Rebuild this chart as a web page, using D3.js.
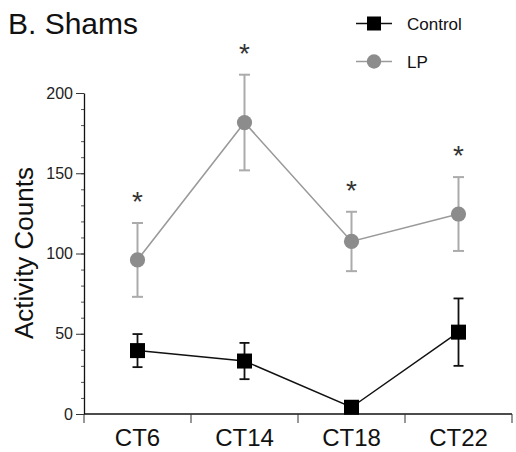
<!DOCTYPE html>
<html>
<head>
<meta charset="utf-8">
<script src="https://cdn.jsdelivr.net/npm/d3@7"></script>
<style>
  html, body { margin: 0; padding: 0; background: #fff; }
  svg { display: block; font-family: "Liberation Sans", Arial, Helvetica, sans-serif; }
</style>
</head>
<body>
<svg id="chart" width="516" height="452"></svg>
<script>
// Circadian time points
const categories = ["CT6", "CT14", "CT18", "CT22"];

// Mean activity counts and SEM per group
const controlMean = [39.5, 33, 4.2, 51];
const controlErr  = [10.3, 11.3, 2, 21];
const lpMean = [96, 181.6, 107.5, 124.6];
const lpErr  = [23, 29.8, 18.5, 23];

// Significance markers (LP vs Control)
const significant = [true, true, true, true];

// Axis ticks
const yMajorTicks = [0, 50, 100, 150, 200];
const yMinorTicks = d3.range(0, 201, 10);

const svg = d3.select("#chart");
const plotLeft = 84, plotRight = 512, plotTop = 93, plotBottom = 414;

const x = d3.scaleBand().domain(categories).range([plotLeft, plotRight]);
const y = d3.scaleLinear().domain([0, 200]).range([plotBottom, plotTop]);
const cx = d => x(d) + x.bandwidth() / 2;

const LP_FILL = "#8c8c8c", LP_LINE = "#9a9a9a", LP_ERR = "#ababab";

// Title
svg.append("text").attr("x", 8).attr("y", 34)
  .attr("font-size", 30).attr("fill", "#111").text("B. Shams");

// Y axis: minor ticks, then major ticks with labels
svg.append("g").attr("transform", `translate(${plotLeft},0)`)
  .call(d3.axisLeft(y).tickValues(yMinorTicks).tickSize(3).tickFormat(""))
  .call(g => g.select(".domain").remove())
  .call(g => g.selectAll("line").attr("stroke", "#555").attr("stroke-width", 1));

const yAx = svg.append("g").attr("transform", `translate(${plotLeft},0)`)
  .call(d3.axisLeft(y).tickValues(yMajorTicks).tickSize(8).tickSizeOuter(0).tickPadding(3))
  .call(g => g.select(".domain").attr("stroke", "#111").attr("stroke-width", 1.3))
  .call(g => g.selectAll("line").attr("stroke", "#333").attr("stroke-width", 1));
yAx.selectAll("text").attr("font-size", 16).attr("fill", "#222")
  .attr("font-family", "Liberation Sans, Arial, sans-serif");

// Y axis title
svg.append("text")
  .attr("transform", `translate(33,253) rotate(-90)`)
  .attr("text-anchor", "middle").attr("font-size", 26).attr("fill", "#111")
  .text("Activity Counts");

// X axis with ticks at band boundaries
const xg = svg.append("g").attr("transform", `translate(0,${plotBottom})`);
xg.append("line").attr("x1", plotLeft).attr("x2", plotRight)
  .attr("stroke", "#111").attr("stroke-width", 1.3);
const bounds = categories.map(c => x(c)).concat([plotRight]);
xg.selectAll("line.tick").data(bounds).join("line").attr("class", "tick")
  .attr("x1", d => d).attr("x2", d => d).attr("y1", 0).attr("y2", 9)
  .attr("stroke", "#333").attr("stroke-width", 1);
xg.selectAll("text").data(categories).join("text")
  .attr("x", d => cx(d)).attr("y", 32)
  .attr("text-anchor", "middle").attr("font-size", 24).attr("fill", "#111")
  .text(d => d);

// Series records
const lpData = categories.map((c, i) => ({ c, m: lpMean[i], e: lpErr[i], s: significant[i] }));
const ctlData = categories.map((c, i) => ({ c, m: controlMean[i], e: controlErr[i] }));

const line = d3.line().x(d => cx(d.c)).y(d => y(d.m));

function errorBars(data, color, width, cap) {
  const g = svg.append("g").attr("stroke", color).attr("stroke-width", width).attr("fill", "none");
  data.forEach(d => {
    const xx = cx(d.c);
    g.append("line").attr("x1", xx).attr("x2", xx).attr("y1", y(d.m - d.e)).attr("y2", y(d.m + d.e));
    g.append("line").attr("x1", xx - cap / 2).attr("x2", xx + cap / 2).attr("y1", y(d.m + d.e)).attr("y2", y(d.m + d.e));
    g.append("line").attr("x1", xx - cap / 2).attr("x2", xx + cap / 2).attr("y1", y(d.m - d.e)).attr("y2", y(d.m - d.e));
  });
}

// LP series
errorBars(lpData, LP_ERR, 2, 11);
svg.append("path").datum(lpData).attr("d", line)
  .attr("fill", "none").attr("stroke", LP_LINE).attr("stroke-width", 1.6);
svg.append("g").selectAll("circle").data(lpData).join("circle")
  .attr("cx", d => cx(d.c)).attr("cy", d => y(d.m)).attr("r", 7.6)
  .attr("fill", LP_FILL);

// Significance asterisks above LP error bars
svg.append("g").selectAll("text").data(lpData.filter(d => d.s)).join("text")
  .attr("x", d => cx(d.c)).attr("y", d => y(d.m + d.e) - 28 + 0.575 * 28)
  .attr("text-anchor", "middle").attr("font-size", 28).attr("fill", "#333")
  .text("*");

// Control series
errorBars(ctlData, "#111", 1.8, 10);
svg.append("path").datum(ctlData).attr("d", line)
  .attr("fill", "none").attr("stroke", "#111").attr("stroke-width", 1.5);
const sq = 15;
svg.append("g").selectAll("rect").data(ctlData).join("rect")
  .attr("x", d => cx(d.c) - sq / 2).attr("y", d => y(d.m) - sq / 2)
  .attr("width", sq).attr("height", sq).attr("fill", "#000");

// Legend
const legend = svg.append("g");
const legendItems = [
  { label: "Control", color: "#111", shape: "square", yy: 23.5 },
  { label: "LP", color: LP_FILL, lineColor: LP_LINE, shape: "circle", yy: 61.5 }
];
legendItems.forEach(it => {
  legend.append("line").attr("x1", 356).attr("x2", 392).attr("y1", it.yy).attr("y2", it.yy)
    .attr("stroke", it.lineColor || it.color).attr("stroke-width", 1.6);
  if (it.shape === "square") {
    legend.append("rect").attr("x", 374 - 7).attr("y", it.yy - 7).attr("width", 14).attr("height", 14).attr("fill", "#000");
  } else {
    legend.append("circle").attr("cx", 374).attr("cy", it.yy).attr("r", 7.2).attr("fill", it.color);
  }
  legend.append("text").attr("x", 407).attr("y", it.yy + 6).attr("font-size", 17).attr("fill", "#111").text(it.label);
});
</script>
</body>
</html>
